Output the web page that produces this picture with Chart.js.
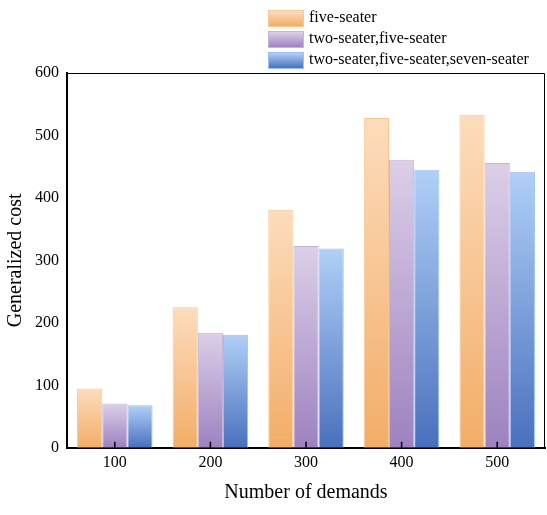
<!DOCTYPE html>
<html>
<head>
<meta charset="utf-8">
<script src="https://cdn.jsdelivr.net/npm/chart.js@4"></script>
<style>
  body { margin: 0; background: #fff; }
  #wrap { position: relative; width: 547px; height: 515px; }
  .leg { position: absolute; left: 268px; font: 16px "Liberation Serif"; color: #000; }
  .leg span { display: inline-block; width: 36px; height: 17px; vertical-align: middle; margin-right: 5px; box-sizing: border-box; }
</style>
</head>
<body>
<div id="wrap">
  <canvas id="costChart" width="547" height="515"></canvas>
  <div class="leg" style="top:8px"><span style="background:linear-gradient(#fddcbc,#f2ad68);border:1px solid #f8c890"></span>five-seater</div>
  <div class="leg" style="top:29px"><span style="background:linear-gradient(#dccfe8,#9d82c0);border:1px solid #c4b4dc"></span>two-seater,five-seater</div>
  <div class="leg" style="top:50px"><span style="background:linear-gradient(#b0d0f8,#4a70bd);border:1px solid #9cc0f0"></span>two-seater,five-seater,seven-seater</div>
</div>
<script>
var demands = ["100", "200", "300", "400", "500"];
var fiveSeater = [95, 225, 381, 528, 533];
var twoFive = [71, 184, 323, 461, 456];
var twoFiveSeven = [68, 181, 319, 445, 442];
var seriesNames = ["five-seater", "two-seater,five-seater", "two-seater,five-seater,seven-seater"];

function grad(top, bottom) {
    return function (context) {
        var chart = context.chart;
        if (!chart.chartArea) return bottom;
        var y = chart.scales.y;
        var v = context.raw;
        var g = chart.ctx.createLinearGradient(0, y.getPixelForValue(v), 0, y.getPixelForValue(0));
        g.addColorStop(0, top);
        g.addColorStop(1, bottom);
        return g;
    };
}

var boxPlugin = {
    id: "box",
    afterDraw: function (chart) {
        var a = chart.chartArea, ctx = chart.ctx;
        ctx.save();
        ctx.strokeStyle = "#000";
        ctx.lineWidth = 1;
        ctx.beginPath();
        ctx.moveTo(a.left, a.top + 0.5);
        ctx.lineTo(a.right - 0.5, a.top + 0.5);
        ctx.lineTo(a.right - 0.5, a.bottom);
        ctx.stroke();
        // inward x ticks
        ctx.lineWidth = 1.5;
        var x = chart.scales.x;
        for (var i = 0; i < demands.length; i++) {
            var px = x.getPixelForTick(i);
            ctx.beginPath();
            ctx.moveTo(px, a.bottom);
            ctx.lineTo(px, a.bottom - 6);
            ctx.stroke();
        }
        ctx.restore();
    }
};

var serif = "Liberation Serif";
new Chart(document.getElementById("costChart").getContext("2d"), {
    type: "bar",
    data: {
        labels: demands,
        datasets: [
            { label: seriesNames[0], data: fiveSeater, backgroundColor: grad("#fddcbc", "#f2ad68"), borderColor: "#f8c890", borderWidth: 1 },
            { label: seriesNames[1], data: twoFive, backgroundColor: grad("#dccfe8", "#9d82c0"), borderColor: "#c4b4dc", borderWidth: 1 },
            { label: seriesNames[2], data: twoFiveSeven, backgroundColor: grad("#b0d0f8", "#4a70bd"), borderColor: "#9cc0f0", borderWidth: 1 }
        ]
    },
    options: {
        responsive: false,
        animation: false,
        layout: { padding: { top: 73, right: 2, left: 0, bottom: 6 } },
        plugins: { legend: { display: false }, tooltip: { enabled: false } },
        datasets: { bar: { categoryPercentage: 0.79, barPercentage: 1 } },
        scales: {
            x: {
                grid: { display: false, drawTicks: false },
                border: { color: "#000", width: 2 },
                ticks: { color: "#000", font: { family: serif, size: 16 }, padding: 5 },
                title: { display: true, text: "Number of demands", color: "#000", font: { family: serif, size: 20 }, padding: { top: 4 } }
            },
            y: {
                min: 0, max: 600,
                grid: { display: false, drawTicks: true, tickLength: 5, tickColor: "#000", tickWidth: 1.5 },
                border: { color: "#000", width: 2 },
                ticks: { stepSize: 100, color: "#000", font: { family: serif, size: 16 }, padding: 3 },
                title: { display: true, text: "Generalized cost", color: "#000", font: { family: serif, size: 20 }, padding: { bottom: 4 } }
            }
        }
    },
    plugins: [boxPlugin]
});
</script>
</body>
</html>
